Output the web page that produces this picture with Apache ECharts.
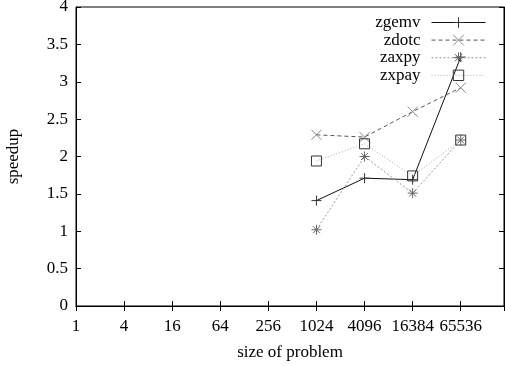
<!DOCTYPE html>
<html>
<head>
<meta charset="utf-8">
<script src="https://cdn.jsdelivr.net/npm/echarts@6/dist/echarts.min.js"></script>
<style>
  html, body { margin: 0; padding: 0; background: #fff; }
  #chart { width: 505px; height: 366px; }
</style>
</head>
<body>
<div id="chart"></div>
<script>
// problem sizes (x, log base 4)
let sizes = [1024, 4096, 16384, 65536];
// speedup per routine
let zgemv = [1.41, 1.71, 1.69, 3.33];
let zdotc = [2.29, 2.26, 2.60, 2.92];
let zaxpy = [1.02, 2.00, 1.51, 2.22];
let zxpay = [1.94, 2.17, 1.74, 2.22];
let names = ["zgemv", "zdotc", "zaxpy", "zxpay"];

let font = "Liberation Serif";
let fontsize = 17;

// gnuplot style point types
let sym_plus = "path://M0,5L10,5M5,0L5,10";
let sym_cross = "path://M0,0L10,10M10,0L0,10";
let sym_star = "path://M0,5L10,5M5,0L5,10M1.5,1.5L8.5,8.5M8.5,1.5L1.5,8.5";
let sym_box = "path://M0,0L10,0L10,10L0,10Z";

let chart = echarts.init(document.getElementById("chart"));

function pts(vals) {
  return sizes.map((s, i) => [s, vals[i]]);
}

function mkSeries(name, vals, symbol, lineColor, lineType, markColor) {
  return {
    name: name,
    type: "line",
    data: pts(vals),
    symbol: symbol,
    symbolSize: 10,
    showAllSymbol: true,
    lineStyle: { color: lineColor, width: 1, type: lineType },
    itemStyle: { color: "transparent", borderColor: markColor, borderWidth: 1 },
    emphasis: { disabled: true },
    z: 3,
  };
}

let xMax = Math.pow(4, 8.9);
let tickLbl = function (v) {
  let e = Math.log(v) / Math.log(4);
  if (Math.abs(e - Math.round(e)) > 1e-6) return "";
  return String(Math.round(Math.pow(4, Math.round(e))));
};

let option = {
  animation: false,
  backgroundColor: "#fff",
  grid: {
    left: 76, right: 1, top: 7, bottom: 60,
    outerBoundsMode: "none",
    show: true, borderColor: "#000", borderWidth: 1,
  },
  legend: {
    data: names,
    orient: "vertical",
    right: 14,
    top: 9,
    align: "right",
    itemWidth: 54,
    itemHeight: 13,
    itemGap: 0.6,
    lineStyle: { width: 1 },
    itemStyle: { borderWidth: 1 },
    textStyle: { fontFamily: font, fontSize: fontsize, color: "#000", padding: [0, 6, 0, 0] },
  },
  xAxis: [
    {
      type: "log", logBase: 4, min: 1, max: xMax,
      position: "bottom",
      axisLine: { lineStyle: { color: "#000" } },
      axisTick: { inside: true, length: 5, lineStyle: { color: "#000" } },
      axisLabel: { formatter: tickLbl, fontFamily: font, fontSize: fontsize, color: "#000", margin: 12, showMaxLabel: false },
      splitLine: { show: false },
      minorTick: { show: false },
      name: "size of problem",
      nameLocation: "middle",
      nameGap: 38,
      nameTextStyle: { fontFamily: font, fontSize: fontsize, color: "#000" },
    },
    {
      type: "log", logBase: 4, min: 1, max: xMax,
      position: "top",
      axisLine: { lineStyle: { color: "#000" } },
      axisTick: { inside: true, length: 5, lineStyle: { color: "#000" } },
      axisLabel: { show: false },
      splitLine: { show: false },
    },
  ],
  yAxis: [
    {
      type: "value", min: 0, max: 4, interval: 0.5,
      position: "left",
      axisLine: { show: true, lineStyle: { color: "#000" } },
      axisTick: { show: true, inside: true, length: 5, lineStyle: { color: "#000" } },
      axisLabel: { fontFamily: font, fontSize: fontsize, color: "#000", margin: 8 },
      splitLine: { show: false },
      name: "speedup",
      nameLocation: "middle",
      nameGap: 54,
      nameTextStyle: { fontFamily: font, fontSize: fontsize, color: "#000" },
    },
    {
      type: "value", min: 0, max: 4, interval: 0.5,
      position: "right",
      axisLine: { show: true, lineStyle: { color: "#000" } },
      axisTick: { show: true, inside: true, length: 5, lineStyle: { color: "#000" } },
      axisLabel: { show: false },
      splitLine: { show: false },
    },
  ],
  series: [
    mkSeries("zgemv", zgemv, sym_plus, "#111", "solid", "#333"),
    mkSeries("zdotc", zdotc, sym_cross, "#555", [4, 3], "#888"),
    mkSeries("zaxpy", zaxpy, sym_star, "#999", [2, 2], "#666"),
    mkSeries("zxpay", zxpay, sym_box, "#aaa", [1, 2], "#333"),
  ],
};

chart.setOption(option);
</script>
</body>
</html>
